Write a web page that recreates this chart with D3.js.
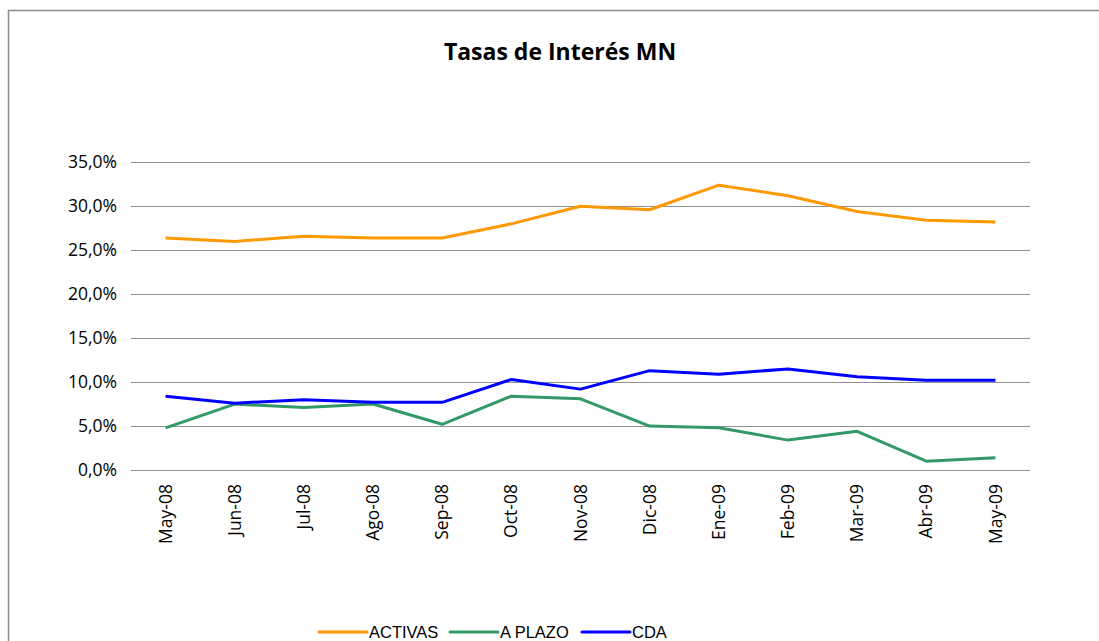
<!DOCTYPE html>
<html>
<head>
<meta charset="utf-8">
<script src="https://cdn.jsdelivr.net/npm/d3@7"></script>
<style>
  body { margin: 0; background: #fff; }
  #chart { width: 1099px; height: 641px; }
</style>
</head>
<body>
<div id="chart"></div>
<script>
// data
var months = ["May-08", "Jun-08", "Jul-08", "Ago-08", "Sep-08", "Oct-08", "Nov-08",
  "Dic-08", "Ene-09", "Feb-09", "Mar-09", "Abr-09", "May-09"];
var activas = [26.4, 26.0, 26.6, 26.4, 26.4, 28.0, 30.0, 29.6, 32.4, 31.2, 29.4, 28.4, 28.2];
var aPlazo = [4.8, 7.5, 7.1, 7.5, 5.2, 8.4, 8.1, 5.0, 4.8, 3.4, 4.4, 1.0, 1.4];
var cda = [8.4, 7.6, 8.0, 7.7, 7.7, 10.3, 9.2, 11.3, 10.9, 11.5, 10.6, 10.2, 10.2];
var yTicks = [0, 5, 10, 15, 20, 25, 30, 35];
var seriesNames = ["ACTIVAS", "A PLAZO", "CDA"];
var seriesColors = ["#FF9900", "#339966", "#0000FF"];

var series = [activas, aPlazo, cda].map(function(vals, i) {
  return { name: seriesNames[i], color: seriesColors[i], values: vals };
});

var W = 1099, H = 641;
var svg = d3.select("#chart").append("svg")
  .attr("width", W)
  .attr("height", H);

// chart frame (cut off at right and bottom like the reference)
svg.append("path")
  .attr("d", "M8.5," + H + " V10.5 H" + W)
  .attr("fill", "none")
  .attr("stroke", "#8c8c8c")
  .attr("stroke-width", 1.5);

// set the plot area
var x = d3.scaleBand()
  .domain(months)
  .range([131, 1030]);

var y = d3.scaleLinear()
  .domain([0, 35])
  .range([470, 162.3]);

// gridlines
svg.append("g")
  .selectAll("line")
  .data(yTicks)
  .enter()
  .append("line")
  .attr("x1", 131)
  .attr("x2", 1030)
  .attr("y1", function(d) { return Math.round(y(d)) + 0.5; })
  .attr("y2", function(d) { return Math.round(y(d)) + 0.5; })
  .attr("stroke", "#8f8f8f")
  .attr("stroke-width", 1);

// Y axis labels
var fmt = function(d) { return d.toFixed(1).replace(".", ",") + "%"; };
var yAxis = svg.append("g")
  .attr("transform", "translate(131,0)")
  .call(d3.axisLeft(y).tickValues(yTicks).tickFormat(fmt).tickSize(0).tickPadding(14));
yAxis.select(".domain").remove();
yAxis.selectAll("text")
  .attr("font-family", "'Open Sans', sans-serif")
  .attr("font-size", "17.5px")
  .attr("fill", "#000");

// X axis labels, rotated
var xAxis = svg.append("g")
  .attr("transform", "translate(0,470)")
  .call(d3.axisBottom(x).tickSize(0).tickPadding(0));
xAxis.select(".domain").remove();
xAxis.selectAll("text")
  .attr("font-family", "'Open Sans', sans-serif")
  .attr("font-size", "17.5px")
  .attr("fill", "#000")
  .attr("text-anchor", "end")
  .attr("dy", "0.35em")
  .attr("transform", "translate(0,14) rotate(-90)")
  .attr("y", 0)
  .attr("x", 0);

// lines
var line = d3.line()
  .x(function(d, i) { return x(months[i]) + x.bandwidth() / 2; })
  .y(function(d) { return y(d); });

svg.append("g")
  .selectAll("path")
  .data(series)
  .enter()
  .append("path")
  .attr("d", function(d) { return line(d.values); })
  .attr("fill", "none")
  .attr("stroke", function(d) { return d.color; })
  .attr("stroke-width", 3)
  .attr("stroke-linejoin", "round");

// title
svg.append("text")
  .attr("x", 560)
  .attr("y", 60)
  .attr("text-anchor", "middle")
  .attr("font-family", "'Open Sans', sans-serif")
  .attr("font-weight", "bold")
  .attr("font-size", "23px")
  .attr("fill", "#000")
  .text("Tasas de Interés MN");

// legend (kept just inside the bottom edge)
var legendX = [319, 450, 582];
var legend = svg.append("g")
  .selectAll("g")
  .data(series)
  .enter()
  .append("g")
  .attr("transform", function(d, i) { return "translate(" + legendX[i] + ",632)"; });

legend.append("line")
  .attr("x1", 0)
  .attr("x2", 48)
  .attr("stroke", function(d) { return d.color; })
  .attr("stroke-width", 3)
  .attr("stroke-linecap", "round");

legend.append("text")
  .attr("x", 50)
  .attr("y", 5.5)
  .attr("font-family", "'Liberation Sans', Arial, sans-serif")
  .attr("font-size", "16.5px")
  .attr("fill", "#000")
  .text(function(d) { return d.name; });
</script>
</body>
</html>
